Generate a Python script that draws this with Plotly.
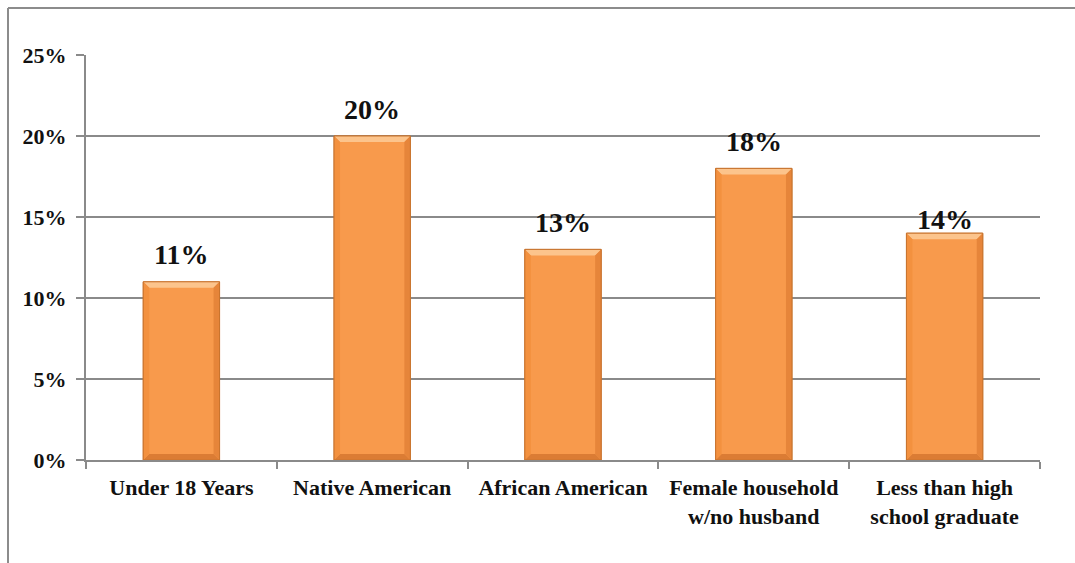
import plotly.graph_objects as go

# Share of people in poverty, by group
categories = ["Under 18 Years", "Native American", "African American",
              "Female household<br>w/no husband", "Less than high<br>school graduate"]
rates = [11, 20, 13, 18, 14]
y_ticks = [0, 5, 10, 15, 20, 25]
y_tick_labels = ["0%", "5%", "10%", "15%", "20%", "25%"]

# value label lift above each bar, in pixels
label_lift = [25, 25, 25, 25, 12]

FONT = "Liberation Serif"
GRID = "#8a8a8a"
BAR_W = 0.4

fig = go.Figure()
fig.add_trace(go.Bar(
    x=categories, y=rates, width=BAR_W,
    marker=dict(color="#F89A4C", line=dict(color="#C8742F", width=1)),
    hoverinfo="skip", showlegend=False,
))

# bevel facets on each bar, built from the bar's own value
px_x = 954 / len(categories)   # pixels per category
px_y = 405 / 25                # pixels per percentage point
bev = 6
dx = bev / px_x
dy = bev / px_y
shapes = []
for i, v in enumerate(rates):
    x0, x1 = i - BAR_W / 2, i + BAR_W / 2
    facets = [
        ([(x0, v), (x1, v), (x1 - dx, v - dy), (x0 + dx, v - dy)], "#FCC48C"),
        ([(x0, 0), (x1, 0), (x1 - dx, dy), (x0 + dx, dy)], "#DB7C34"),
        ([(x0, 0), (x0, v), (x0 + dx, v - dy), (x0 + dx, dy)], "#F3913F"),
        ([(x1, 0), (x1, v), (x1 - dx, v - dy), (x1 - dx, dy)], "#E6853A"),
    ]
    for pts, col in facets:
        path = "M " + " L ".join(f"{a},{b}" for a, b in pts) + " Z"
        shapes.append(dict(type="path", xref="x", yref="y", path=path,
                           fillcolor=col, line=dict(width=0), layer="above"))
    shapes.append(dict(type="rect", xref="x", yref="y", x0=x0, x1=x1, y0=0, y1=v,
                       line=dict(color="#C8742F", width=1), layer="above"))

# outer frame lines (left and top)
shapes.append(dict(type="line", xref="paper", yref="paper",
                   x0=(8 - 86) / 954, x1=(8 - 86) / 954, y0=-0.3, y1=1 + 47 / 405,
                   line=dict(color="#8c8c8c", width=2)))
shapes.append(dict(type="line", xref="paper", yref="paper",
                   x0=(8 - 86) / 954, x1=1.1, y0=1 + 47 / 405, y1=1 + 47 / 405,
                   line=dict(color="#8c8c8c", width=2)))

annotations = []
for i, v in enumerate(rates):
    annotations.append(dict(x=i, y=v, xref="x", yref="y", text=f"{v}%",
                            showarrow=False, yanchor="middle", yshift=label_lift[i] + 2,
                            font=dict(family=FONT, size=28, color="#111111", weight="bold")))

fig.update_layout(
    width=1075, height=563,
    margin=dict(l=86, r=35, t=55, b=103),
    paper_bgcolor="white", plot_bgcolor="white",
    shapes=shapes, annotations=annotations,
    bargap=0.6,
    font=dict(family=FONT, color="#111111"),
)
fig.update_xaxes(
    type="category", categoryorder="array", categoryarray=categories,
    range=[-0.5, len(categories) - 0.5],
    showline=True, linecolor=GRID, linewidth=2,
    ticks="outside", tickson="boundaries", ticklen=7, tickcolor=GRID, tickwidth=2,
    showgrid=False, zeroline=False,
    ticklabelstandoff=7,
    tickfont=dict(family=FONT, size=22, color="#111111", weight="bold"),
)
fig.update_yaxes(
    range=[0, 25], tickmode="array", tickvals=y_ticks, ticktext=y_tick_labels,
    showline=True, linecolor=GRID, linewidth=2,
    ticks="outside", ticklen=8, tickcolor=GRID, tickwidth=2,
    showgrid=True, gridcolor=GRID, gridwidth=2, zeroline=False,
    ticklabelstandoff=5,
    tickfont=dict(family=FONT, size=22, color="#111111", weight="bold"),
)

fig.write_html("out.html")
